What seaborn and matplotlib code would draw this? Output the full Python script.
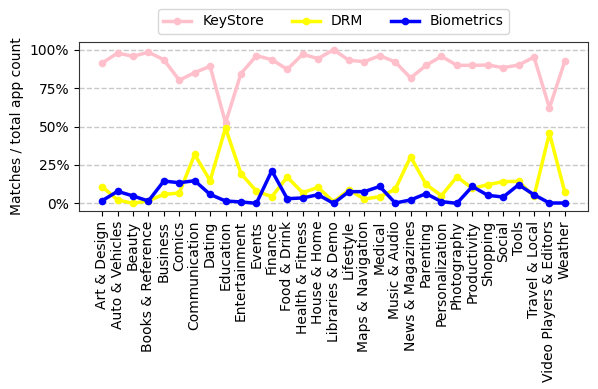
import matplotlib
matplotlib.use("Agg")
import matplotlib.pyplot as plt
import seaborn as sns
import pandas as pd
from matplotlib.ticker import PercentFormatter

categories = ["Art & Design", "Auto & Vehicles", "Beauty", "Books & Reference", "Business",
              "Comics", "Communication", "Dating", "Education", "Entertainment", "Events",
              "Finance", "Food & Drink", "Health & Fitness", "House & Home", "Libraries & Demo",
              "Lifestyle", "Maps & Navigation", "Medical", "Music & Audio", "News & Magazines",
              "Parenting", "Personalization", "Photography", "Productivity", "Shopping",
              "Social", "Tools", "Travel & Local", "Video Players & Editors", "Weather"]

keystore = [91.3, 97.8, 95.7, 98.3, 93.5, 80.1, 85.1, 89.2, 52.4, 84.4, 96.1,
            93.5, 87.2, 97.0, 94.2, 100.0, 93.1, 92.2, 96.1, 92.0, 81.6,
            89.8, 95.7, 89.8, 89.8, 90.0, 88.3, 90.0, 95.2, 62.1, 92.6]
drm = [10.8, 2.2, 0.0, 1.7, 5.8, 6.7, 31.8, 14.7, 49.1, 19.3, 8.0,
       4.3, 17.1, 6.9, 10.4, 1.0, 8.7, 2.8, 4.3, 9.1, 30.3,
       12.3, 5.0, 17.3, 9.7, 12.1, 14.1, 14.3, 4.5, 45.7, 7.1]
biometrics = [1.7, 7.8, 4.8, 1.5, 14.5, 13.4, 14.7, 5.8, 1.5, 0.9, 0.0,
              21.2, 3.0, 3.5, 5.6, 0.0, 7.6, 7.6, 11.0, 0.2, 2.2,
              6.3, 1.1, 0.0, 11.0, 5.2, 4.1, 12.1, 5.6, 0.2, 0.2]

series_names = ["KeyStore", "DRM", "Biometrics"]
colors = ["pink", "yellow", "blue"]

df = pd.DataFrame({
    "category": categories * 3,
    "value": keystore + drm + biometrics,
    "series": [s for s in series_names for _ in categories],
})

plt.rcParams["font.family"] = ["DejaVu Sans"]
plt.rcParams["font.size"] = 10
fig = plt.figure(figsize=(5.98, 3.89), dpi=100)
ax = fig.add_axes([79 / 598, 1 - 211 / 389, (588 - 79) / 598, (211 - 42) / 389])

sns.lineplot(data=df, x="category", y="value", hue="series", hue_order=series_names,
             palette=colors, marker="o", markersize=5.5, markeredgewidth=0,
             linewidth=2.5, sort=False, ax=ax)

ax.set_yticks([0, 25, 50, 75, 100])
ax.yaxis.set_major_formatter(PercentFormatter(100, decimals=0))
ax.set_xlabel("")
ax.set_ylabel("Matches / total app count", fontsize=10)
ax.tick_params(axis="x", labelrotation=90, labelsize=10)
ax.tick_params(axis="y", labelsize=10)
ax.grid(axis="y", linestyle="--", color="#c8c8c8", linewidth=1)
ax.set_axisbelow(True)
for sp in ax.spines.values():
    sp.set_color("#333333")

leg = ax.legend(loc="lower center", bbox_to_anchor=(0.5, 1 + 8 / 169), borderaxespad=0,
                ncol=3, fontsize=10, frameon=True)

fig.savefig("out.png", dpi=100)
